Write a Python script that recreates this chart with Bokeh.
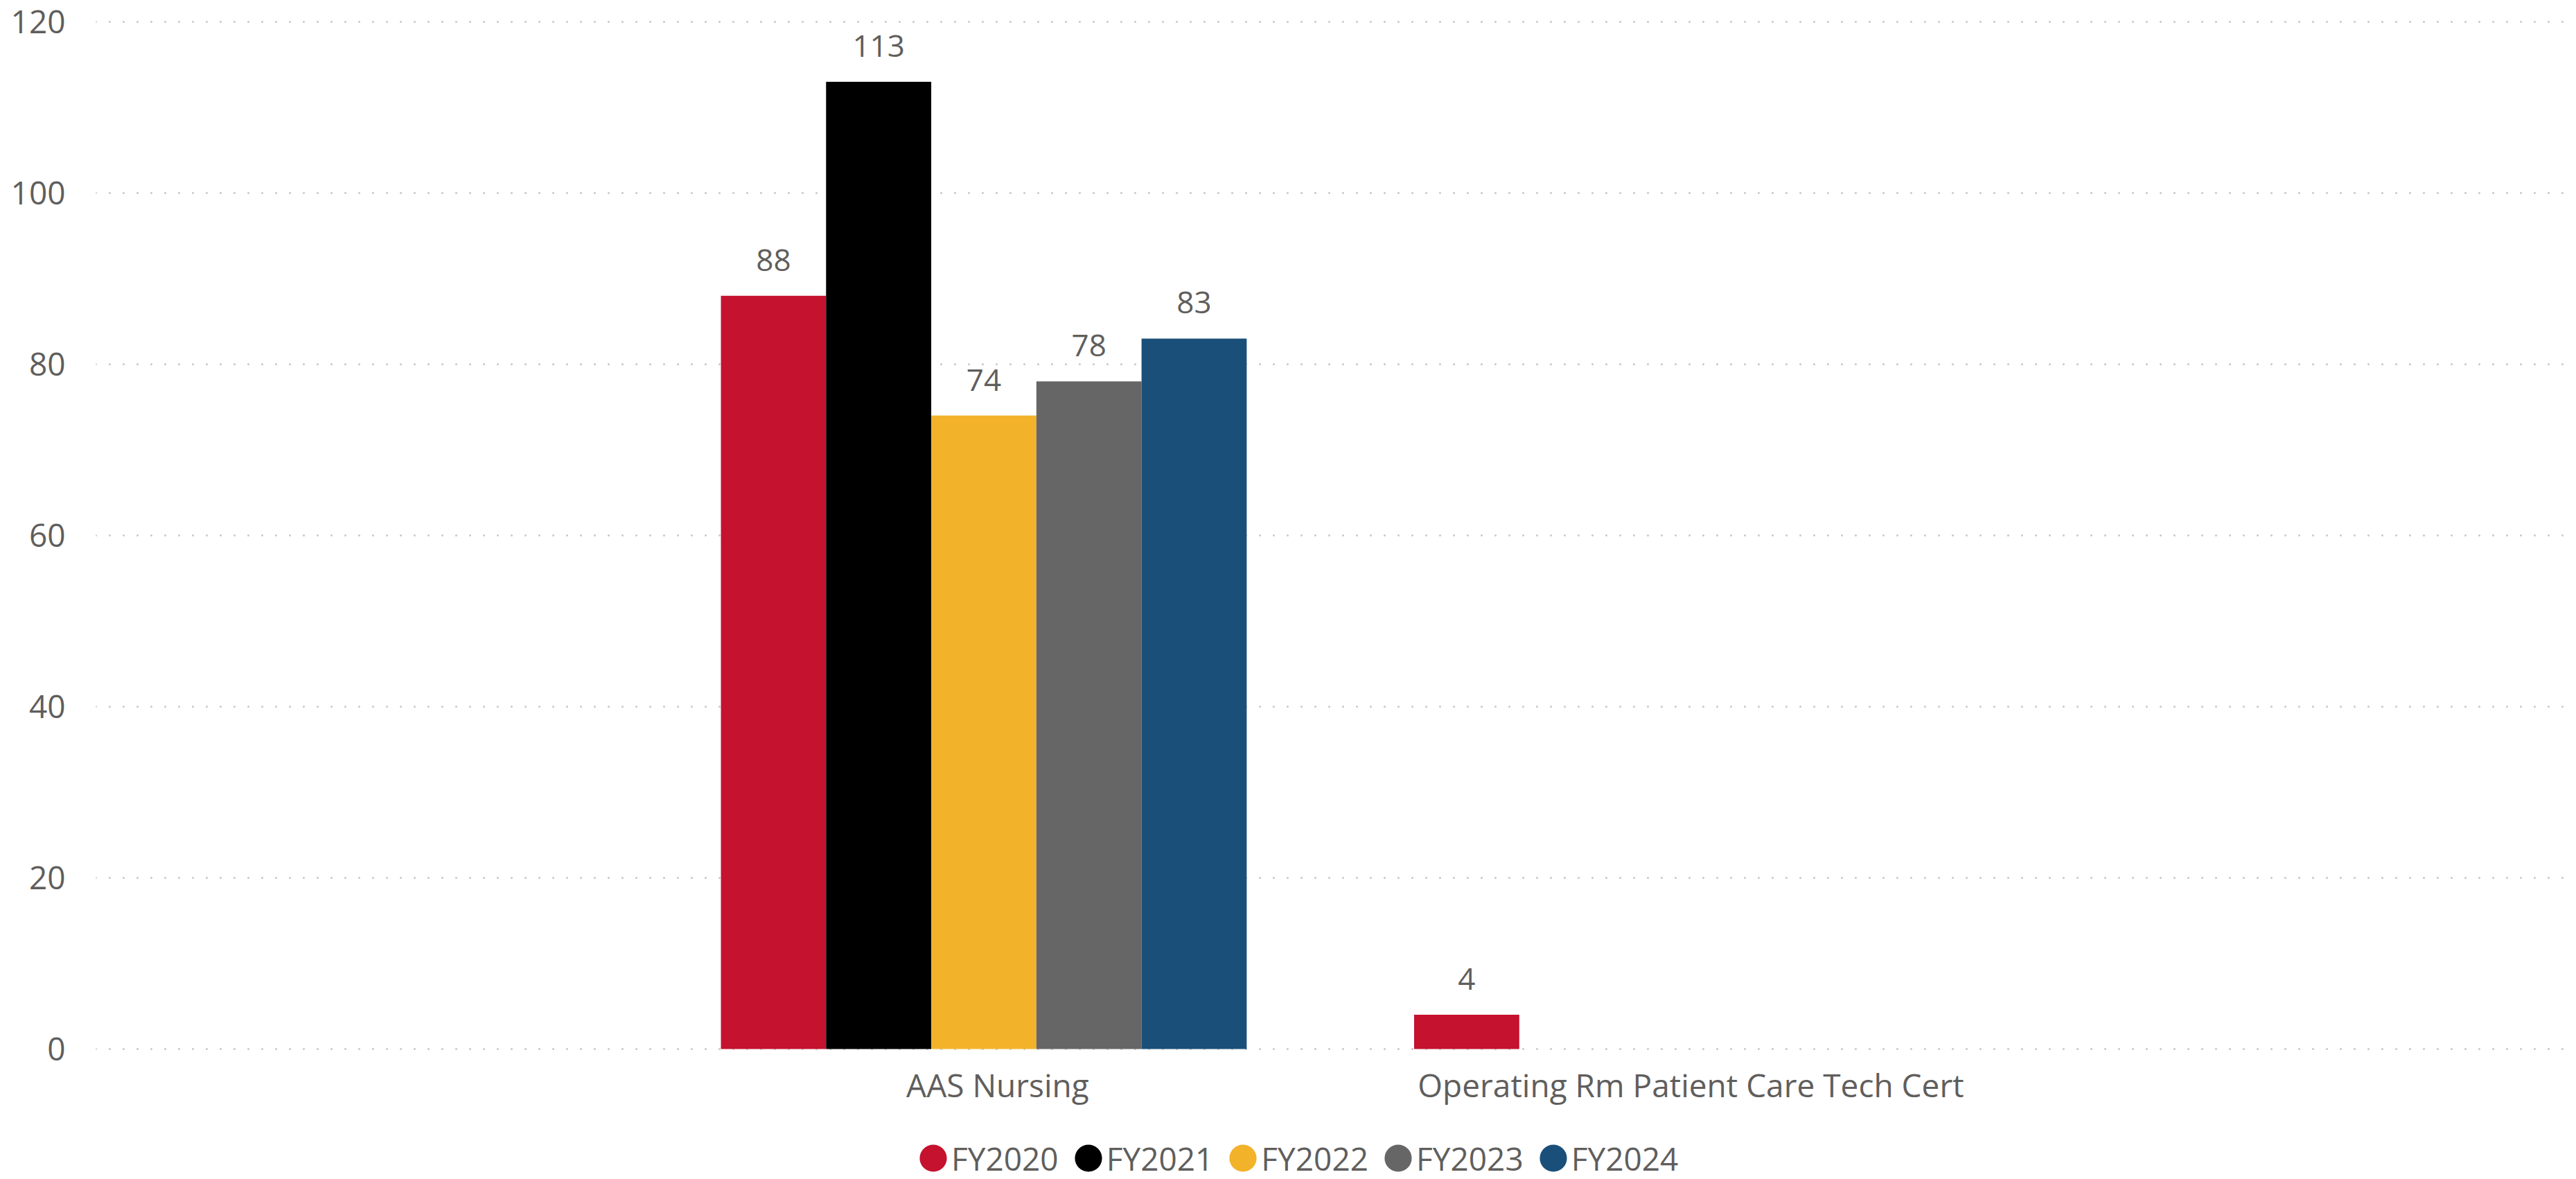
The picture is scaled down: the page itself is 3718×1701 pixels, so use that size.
from bokeh.plotting import figure
from bokeh.layouts import column
from bokeh.models import ColumnDataSource, Range1d, FixedTicker, LabelSet, Legend, LegendItem
from bokeh.transform import dodge
from bokeh.core.properties import value
from bokeh.embed import file_html
from bokeh.resources import INLINE

# ---- data ----
categories = ["AAS Nursing", "Operating Rm Patient Care Tech Cert"]
years = ["FY2020", "FY2021", "FY2022", "FY2023", "FY2024"]
fy2020 = [88, 4]
fy2021 = [113, None]
fy2022 = [74, None]
fy2023 = [78, None]
fy2024 = [83, None]
series = [fy2020, fy2021, fy2022, fy2023, fy2024]
colors = ["#C4122F", "#000000", "#F2B22A", "#666666", "#1A4F7A"]
y_ticks = [0, 20, 40, 60, 80, 100, 120]

FONT = "Open Sans"
TXT = "#605E5C"

p = figure(width=3710, height=1598, output_backend="svg", toolbar_location=None,
           x_range=Range1d(-1.3008, 2.2694), y_range=Range1d(-0.16, 120.89),
           min_border_left=138, min_border_right=0, min_border_top=20, min_border_bottom=80)
p.outline_line_color = None
p.background_fill_color = "white"
p.border_fill_color = "white"

bar_w = 0.1517
group_shift = -0.02
n = len(years)
for k, (yr, vals, col) in enumerate(zip(years, series, colors)):
    xs = [i for i, v in enumerate(vals) if v is not None]
    tops = [v for v in vals if v is not None]
    src = ColumnDataSource(dict(x=xs, top=tops, label=[str(v) for v in tops]))
    off = (k - (n - 1) / 2) * bar_w + group_shift
    p.vbar(x=dodge("x", off), top="top", bottom=0, width=bar_w, source=src,
           fill_color=col, line_color=None)
    labels = LabelSet(x=dodge("x", off), y="top", text="label", source=src,
                      text_align="center", text_baseline="alphabetic", y_offset=36,
                      text_font=value(FONT), text_font_size="44px", text_color=TXT)
    p.add_layout(labels)

# axes
p.xaxis.ticker = FixedTicker(ticks=list(range(len(categories))))
p.xaxis.major_label_overrides = {i: c for i, c in enumerate(categories)}
p.yaxis.ticker = FixedTicker(ticks=y_ticks)
for ax in (p.xaxis[0], p.yaxis[0]):
    ax.axis_line_color = None
    ax.major_tick_line_color = None
    ax.minor_tick_line_color = None
    ax.major_label_text_font = FONT
    ax.major_label_text_font_size = "46px"
    ax.major_label_text_color = TXT
p.xaxis.major_label_standoff = 12
p.yaxis.major_label_standoff = 38

p.xgrid.visible = False
p.ygrid.grid_line_color = "#C8C6C4"
p.ygrid.grid_line_width = 3
p.ygrid.grid_line_dash = "0 20"
p.ygrid.grid_line_cap = "round"

# ---- legend strip ----
lg = figure(width=3710, height=103, output_backend="svg", toolbar_location=None,
            x_range=Range1d(0, 1), y_range=Range1d(0, 1),
            min_border_left=0, min_border_right=0, min_border_top=0, min_border_bottom=0)
lg.axis.visible = False
lg.grid.visible = False
lg.outline_line_color = None
lg.background_fill_color = "white"
lg.border_fill_color = "white"
nan = float("nan")
legend_items = []
for yr, col in zip(years, colors):
    r = lg.ellipse(x=[nan], y=[nan], width=10, height=10,
                   width_units="screen", height_units="screen",
                   fill_color=col, line_color=None)
    legend_items.append(LegendItem(label=yr, renderers=[r]))

legend = Legend(items=legend_items, location=(1184, -0.5), orientation="horizontal",
                glyph_width=49, glyph_height=49, label_standoff=2, spacing=18,
                padding=0, margin=0, border_line_color=None, background_fill_alpha=0,
                label_text_font=FONT, label_text_font_size="46px", label_text_color=TXT,
                label_text_baseline="middle")
lg.add_layout(legend)

layout = column(p, lg, spacing=0)
open("out.html", "w").write(file_html(layout, INLINE))
